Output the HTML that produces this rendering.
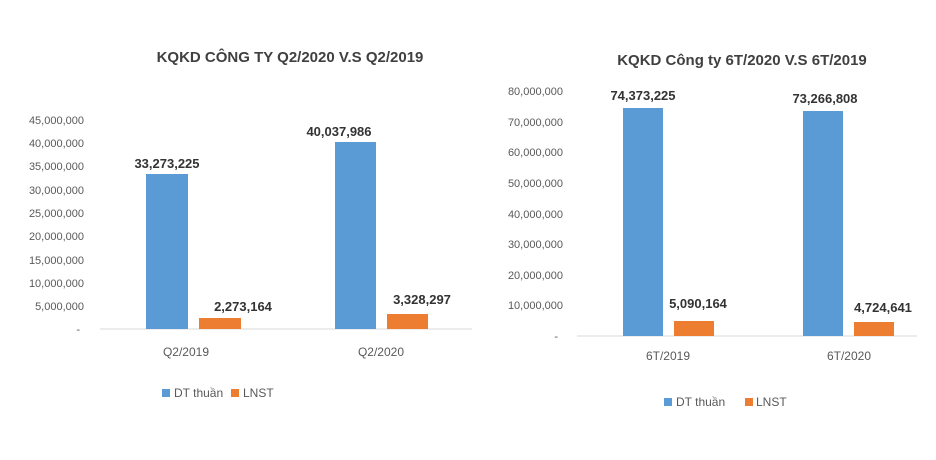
<!DOCTYPE html>
<html><head><meta charset="utf-8"><style>
body{margin:0;background:#fff}
svg{display:block;font-family:"Liberation Sans",sans-serif}
.t{font-size:15px;font-weight:bold;fill:#404040}
.y{font-size:11px;fill:#595959}
.c{font-size:12px;fill:#595959}
.v{font-size:13px;font-weight:bold;fill:#333}
.l{font-size:12px;fill:#595959}
</style></head><body>
<svg width="936" height="460" viewBox="0 0 936 460">
<rect width="936" height="460" fill="#fff"/>
<!-- Left chart -->
<text class="t" x="290" y="62" text-anchor="middle">KQKD CÔNG TY Q2/2020 V.S Q2/2019</text>
<g class="y" text-anchor="end">
<text x="84" y="124">45,000,000</text>
<text x="84" y="147">40,000,000</text>
<text x="84" y="170">35,000,000</text>
<text x="84" y="194">30,000,000</text>
<text x="84" y="217">25,000,000</text>
<text x="84" y="240">20,000,000</text>
<text x="84" y="264">15,000,000</text>
<text x="84" y="287">10,000,000</text>
<text x="84" y="310">5,000,000</text>
<text x="80" y="333">-</text>
</g>
<line x1="100" y1="329" x2="472" y2="329" stroke="#d9d9d9"/>
<rect x="146" y="174" width="42" height="155" fill="#5b9bd5"/>
<rect x="199" y="318" width="42" height="11" fill="#ed7d31"/>
<rect x="335" y="142" width="41" height="187" fill="#5b9bd5"/>
<rect x="387" y="314" width="41" height="15" fill="#ed7d31"/>
<g class="v" text-anchor="middle">
<text x="167" y="168">33,273,225</text>
<text x="243" y="311">2,273,164</text>
<text x="339" y="136">40,037,986</text>
<text x="422" y="304">3,328,297</text>
</g>
<text class="c" x="186" y="356" text-anchor="middle">Q2/2019</text>
<text class="c" x="381" y="356" text-anchor="middle">Q2/2020</text>
<rect x="162" y="389" width="8" height="8" fill="#5b9bd5"/>
<text class="l" x="174" y="397">DT thuần</text>
<rect x="231" y="389" width="8" height="8" fill="#ed7d31"/>
<text class="l" x="243" y="397">LNST</text>
<!-- Right chart -->
<text class="t" x="742" y="65" text-anchor="middle">KQKD Công ty 6T/2020 V.S 6T/2019</text>
<g class="y" text-anchor="end">
<text x="563" y="95">80,000,000</text>
<text x="563" y="126">70,000,000</text>
<text x="563" y="156">60,000,000</text>
<text x="563" y="187">50,000,000</text>
<text x="563" y="218">40,000,000</text>
<text x="563" y="248">30,000,000</text>
<text x="563" y="279">20,000,000</text>
<text x="563" y="309">10,000,000</text>
<text x="558" y="340">-</text>
</g>
<line x1="577" y1="336" x2="917" y2="336" stroke="#d9d9d9"/>
<rect x="623" y="108" width="40" height="228" fill="#5b9bd5"/>
<rect x="674" y="321" width="40" height="15" fill="#ed7d31"/>
<rect x="803" y="111" width="40" height="225" fill="#5b9bd5"/>
<rect x="854" y="322" width="40" height="14" fill="#ed7d31"/>
<g class="v" text-anchor="middle">
<text x="643" y="100">74,373,225</text>
<text x="825" y="103">73,266,808</text>
<text x="698" y="308">5,090,164</text>
<text x="883" y="312">4,724,641</text>
</g>
<text class="c" x="668" y="360" text-anchor="middle">6T/2019</text>
<text class="c" x="849" y="360" text-anchor="middle">6T/2020</text>
<rect x="664" y="398" width="8" height="8" fill="#5b9bd5"/>
<text class="l" x="676" y="406">DT thuần</text>
<rect x="745" y="398" width="8" height="8" fill="#ed7d31"/>
<text class="l" x="756" y="406">LNST</text>
</svg>
</body></html>
